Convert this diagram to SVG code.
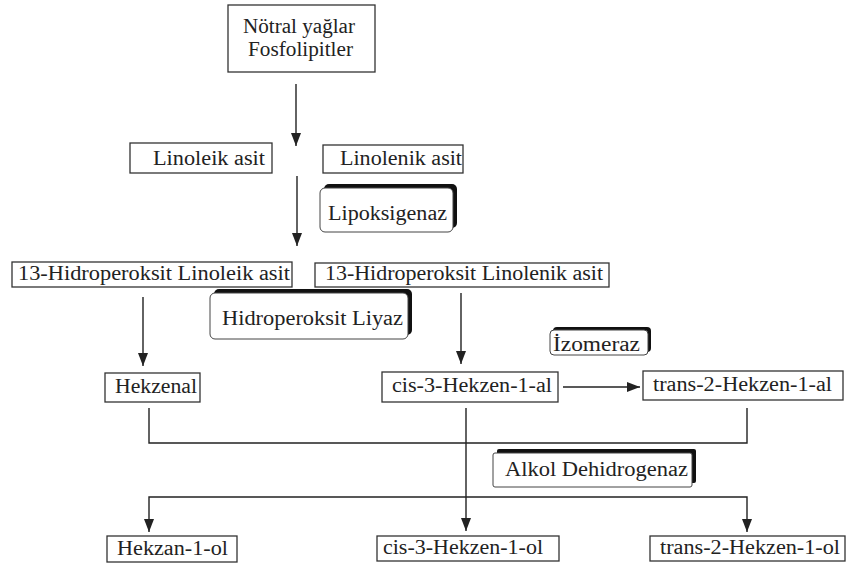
<svg xmlns="http://www.w3.org/2000/svg" width="849" height="569" viewBox="0 0 849 569">
<style>
.bx{fill:#fff;stroke:#333;stroke-width:1.3}
.rb{fill:#fff;stroke:#444;stroke-width:1}
.sh{fill:#111}
.t{font-family:"Liberation Serif","Times New Roman",serif;font-size:20px;fill:#222}
.ln{fill:none;stroke:#222;stroke-width:1.4}
</style>
<defs>
<marker id="ah" viewBox="0 0 13 10" refX="13" refY="5" markerWidth="13" markerHeight="10" markerUnits="userSpaceOnUse" orient="auto-start-reverse">
<path d="M0,0 L13,5 L0,10 z" fill="#222"/>
</marker>
</defs>
<rect width="849" height="569" fill="#fff"/>
<g id="connectors">
<line class="ln" x1="296" y1="84" x2="296" y2="146" marker-end="url(#ah)"/>
<line class="ln" x1="297" y1="176" x2="297" y2="246" marker-end="url(#ah)"/>
<line class="ln" x1="143" y1="297" x2="143" y2="366" marker-end="url(#ah)"/>
<line class="ln" x1="461" y1="293" x2="461" y2="364" marker-end="url(#ah)"/>
<line class="ln" x1="563" y1="387" x2="640" y2="387" marker-end="url(#ah)"/>
<polyline class="ln" points="149,408 149,443 747,443 747,408"/>
<line class="ln" x1="466" y1="408" x2="466" y2="531" marker-end="url(#ah)"/>
<polyline class="ln" points="149,532 149,497 747,497 747,532" marker-start="url(#ah)" marker-end="url(#ah)"/>
</g>
<g id="n_notral">
<rect class="bx" x="228" y="5" width="147" height="67"/>
<text class="t" x="243" y="33" textLength="112" lengthAdjust="spacingAndGlyphs">Nötral yağlar</text>
<text class="t" x="248" y="56" textLength="105" lengthAdjust="spacingAndGlyphs">Fosfolipitler</text>
</g>
<g id="n_linoleik">
<rect class="bx" x="130" y="143" width="142" height="30"/>
<text class="t" x="153" y="165" textLength="112" lengthAdjust="spacingAndGlyphs">Linoleik asit</text>
</g>
<g id="n_linolenik">
<rect class="bx" x="323" y="145" width="140" height="28"/>
<text class="t" x="340" y="165" textLength="122" lengthAdjust="spacingAndGlyphs">Linolenik asit</text>
</g>
<g id="n_lipoksigenaz">
<rect class="sh" x="324" y="184" width="133" height="44" rx="5"/>
<rect class="rb" x="320" y="188" width="133" height="44" rx="5"/>
<text class="t" x="328" y="220" textLength="119" lengthAdjust="spacingAndGlyphs">Lipoksigenaz</text>
</g>
<g id="n_hp_linoleik">
<rect class="bx" x="12" y="262" width="280" height="25"/>
<text class="t" x="18" y="280" textLength="272" lengthAdjust="spacingAndGlyphs">13-Hidroperoksit Linoleik asit</text>
</g>
<g id="n_hp_linolenik">
<rect class="bx" x="315" y="263" width="294" height="24"/>
<text class="t" x="325" y="280" textLength="278" lengthAdjust="spacingAndGlyphs">13-Hidroperoksit Linolenik asit</text>
</g>
<g id="n_liyaz">
<rect class="sh" x="214" y="289" width="198" height="46" rx="5"/>
<rect class="rb" x="210" y="293" width="198" height="46" rx="5"/>
<text class="t" x="222" y="325" textLength="181" lengthAdjust="spacingAndGlyphs">Hidroperoksit Liyaz</text>
</g>
<g id="n_izomeraz">
<rect class="sh" x="553" y="327" width="98" height="25" rx="4"/>
<rect class="rb" x="550" y="330" width="98" height="25" rx="4"/>
<text class="t" x="553" y="351" textLength="87" lengthAdjust="spacingAndGlyphs">İzomeraz</text>
</g>
<g id="n_hekzenal">
<rect class="bx" x="105" y="373" width="95" height="29"/>
<text class="t" x="115" y="393" textLength="82" lengthAdjust="spacingAndGlyphs">Hekzenal</text>
</g>
<g id="n_cis_al">
<rect class="bx" x="382" y="372" width="176" height="30"/>
<text class="t" x="392" y="392" textLength="160" lengthAdjust="spacingAndGlyphs">cis-3-Hekzen-1-al</text>
</g>
<g id="n_trans_al">
<rect class="bx" x="643" y="371" width="200" height="29"/>
<text class="t" x="653" y="391" textLength="179" lengthAdjust="spacingAndGlyphs">trans-2-Hekzen-1-al</text>
</g>
<g id="n_alkol">
<rect class="sh" x="497" y="449" width="199" height="34" rx="2"/>
<rect class="rb" x="493" y="453" width="199" height="34" rx="2"/>
<text class="t" x="505" y="476" textLength="183" lengthAdjust="spacingAndGlyphs">Alkol Dehidrogenaz</text>
</g>
<g id="n_hekzanol">
<rect class="bx" x="107" y="536" width="130" height="26"/>
<text class="t" x="117" y="555" textLength="111" lengthAdjust="spacingAndGlyphs">Hekzan-1-ol</text>
</g>
<g id="n_cis_ol">
<rect class="bx" x="377" y="536" width="182" height="25"/>
<text class="t" x="383" y="554" textLength="160" lengthAdjust="spacingAndGlyphs">cis-3-Hekzen-1-ol</text>
</g>
<g id="n_trans_ol">
<rect class="bx" x="650" y="536" width="195" height="25"/>
<text class="t" x="660" y="554" textLength="180" lengthAdjust="spacingAndGlyphs">trans-2-Hekzen-1-ol</text>
</g>
</svg>
